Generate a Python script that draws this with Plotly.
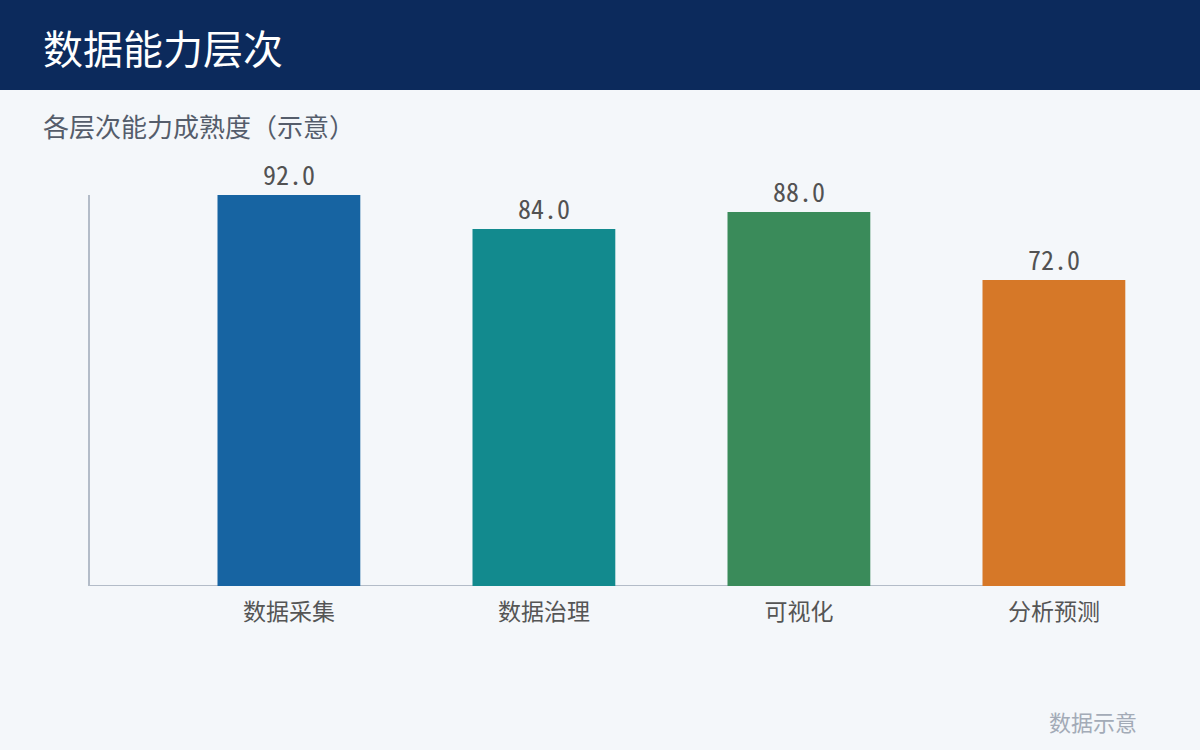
import plotly.graph_objects as go

categories = ["数据采集", "数据治理", "可视化", "分析预测"]
values = [92.0, 84.0, 88.0, 72.0]
colors = ["#1764a2", "#128a8e", "#3a8b5a", "#d67828"]

FONT = "Noto Sans CJK SC"
MONO = "Noto Sans Mono CJK SC"

L, R, T, B = 90, 70, 195, 164
PW = 1200 - L - R
PH = 750 - T - B


def px(xp):
    return (xp - L) / PW


def py(yp):
    return (750 - B - yp) / PH


fig = go.Figure(go.Bar(
    x=list(range(len(categories))),
    y=values,
    marker=dict(color=colors, line=dict(width=0)),
    width=0.56,
    offset=0,
    text=[f"{v:.1f}" for v in values],
    textposition="outside",
    textfont=dict(family=MONO, size=26, color="#525252", weight=300),
    cliponaxis=False,
    hoverinfo="skip",
))

fig.update_layout(
    width=1200, height=750,
    margin=dict(l=L, r=R, t=T, b=B),
    paper_bgcolor="#f4f7fa",
    plot_bgcolor="#f4f7fa",
    showlegend=False,
    font=dict(family=FONT),
    xaxis=dict(
        range=[-0.5, -0.5 + PW / 255],
        tickmode="array",
        tickvals=[i + 0.28 for i in range(len(categories))],
        ticktext=categories,
        showgrid=False, zeroline=False, showline=False,
        ticks="", tickfont=dict(family=FONT, size=23, color="#555555"),
        ticklabelstandoff=10,
    ),
    yaxis=dict(
        range=[0, 92],
        showgrid=False, zeroline=False,
        showline=True, linecolor="#b3bcc8", linewidth=2,
        showticklabels=False, ticks="",
    ),
    shapes=[
        dict(type="line", xref="x", yref="y", x0=-0.5, x1=3.5, y0=0, y1=0,
             line=dict(color="#b3bcc8", width=2), layer="below"),
        dict(type="rect", xref="paper", yref="paper",
             x0=px(-5), x1=px(1205), y0=py(90), y1=py(-5),
             fillcolor="#0c2a5c", line=dict(width=0), layer="above"),
    ],
    annotations=[
        dict(text="数据能力层次", xref="paper", yref="paper",
             x=px(41), y=py(47), xanchor="left", yanchor="middle",
             showarrow=False, font=dict(family=FONT, size=40, color="#ffffff")),
        dict(text="各层次能力成熟度（示意）", xref="paper", yref="paper",
             x=px(41), y=py(126), xanchor="left", yanchor="middle",
             showarrow=False, font=dict(family=FONT, size=26, color="#555d6b")),
        dict(text="数据示意", xref="paper", yref="paper",
             x=px(1139), y=py(721), xanchor="right", yanchor="middle",
             showarrow=False, font=dict(family=FONT, size=22, color="#a3abb7")),
    ],
)

fig.write_html("out.html", config={"displayModeBar": False},
               post_script="document.body.style.margin='0';")
